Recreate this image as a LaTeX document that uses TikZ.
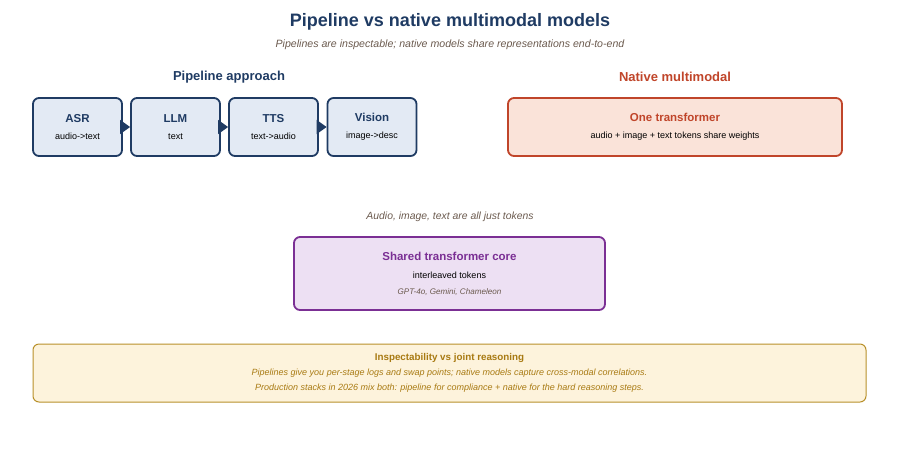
\documentclass[tikz,border=0pt]{standalone}
\usepackage{fontspec}
\setmainfont{Liberation Sans}
\usetikzlibrary{arrows.meta, positioning}
\definecolor{navy}{HTML}{1F3B63}
\definecolor{bluefill}{HTML}{E3EAF4}
\definecolor{rust}{HTML}{C0452A}
\definecolor{rustfill}{HTML}{FAE3D9}
\definecolor{plum}{HTML}{7B2F94}
\definecolor{plumfill}{HTML}{EDE0F3}
\definecolor{ochre}{HTML}{B8902A}
\definecolor{ochretext}{HTML}{A87A12}
\definecolor{ochrefill}{HTML}{FDF3DC}
\definecolor{note}{HTML}{6B5A4E}

\begin{document}
\begin{tikzpicture}[
  x=1pt, y=-1pt,
  stage/.style={draw=navy, line width=1.8pt, rounded corners=6pt, fill=bluefill,
    minimum width=89pt, minimum height=58pt, align=center, inner sep=0pt},
  native/.style={draw=rust, line width=1.8pt, rounded corners=6pt, fill=rustfill,
    minimum width=334pt, minimum height=58pt, align=center, inner sep=0pt},
  core/.style={draw=plum, line width=1.8pt, rounded corners=6pt, fill=plumfill,
    minimum width=311pt, minimum height=73pt, align=center, inner sep=0pt},
  takeaway/.style={draw=ochre, line width=1pt, rounded corners=6pt, fill=ochrefill,
    minimum width=833pt, minimum height=58pt, align=center, inner sep=0pt},
  flow/.style={navy, line width=1.3pt, -{Triangle[length=10pt, width=14pt]}},
  head/.style={font=\bfseries\fontsize{13}{15}\selectfont}
  ]
    \useasboundingbox (0,0) rectangle (900,475);

    % Titles
    \node (title) at (450,22) {\bfseries\fontsize{18}{20}\selectfont\color{navy}Pipeline vs native multimodal models};
    \node (sub) at (450,45) {\itshape\fontsize{10.6}{12}\selectfont\color{note}Pipelines are inspectable; native models share representations end-to-end};
    \node[head, navy] (lefthead) at (229,77) {Pipeline approach};
    \node[head, rust] (righthead) at (675,77) {Native multimodal};

%pipeline stages
\node[stage] (asr) at (77.5,127) {\bfseries\fontsize{11.5}{13}\selectfont\color{navy}ASR\\[5pt]\fontsize{9}{10}\selectfont audio->text};
\node[stage] (llm) at (175.5,127) {\bfseries\fontsize{11.5}{13}\selectfont\color{navy}LLM\\[5pt]\fontsize{9}{10}\selectfont text};
\node[stage] (tts) at (273.5,127) {\bfseries\fontsize{11.5}{13}\selectfont\color{navy}TTS\\[5pt]\fontsize{9}{10}\selectfont text->audio};
\node[stage] (vision) at (372,127) {\bfseries\fontsize{11.5}{13}\selectfont\color{navy}Vision\\[5pt]\fontsize{9}{10}\selectfont image->desc};

\draw[flow] (asr) -- (llm);
\draw[flow] (llm) -- (tts);
\draw[flow] (tts) -- (vision);

%native
\node[native] (one) at (675,127) {\bfseries\fontsize{11.5}{13}\selectfont\color{rust}One transformer\\[5pt]\fontsize{9}{10}\selectfont audio + image + text tokens share weights};

% core
\node (tokens) at (450,217) {\itshape\fontsize{10.4}{12}\selectfont\color{note}Audio, image, text are all just tokens};
\node[core] (shared) at (449.5,273.5) {\bfseries\fontsize{11.5}{13}\selectfont\color{plum}Shared transformer core\\[6pt]\fontsize{9}{10}\selectfont interleaved tokens\\[4pt]\itshape\fontsize{8.1}{9}\selectfont\color{note}GPT-4o, Gemini, Chameleon};

%bottom note
\node[takeaway] (why) at (449.5,373) {\color{ochretext}\bfseries\fontsize{9.8}{11}\selectfont Inspectability vs joint reasoning\\[3pt]
  \color{ochretext}\itshape\fontsize{9}{10}\selectfont Pipelines give you per-stage logs and swap points; native models capture cross-modal correlations.\\[3pt]
  \color{ochretext}\itshape\fontsize{9}{10}\selectfont Production stacks in 2026 mix both: pipeline for compliance + native for the hard reasoning steps.};

\end{tikzpicture}
\end{document}
